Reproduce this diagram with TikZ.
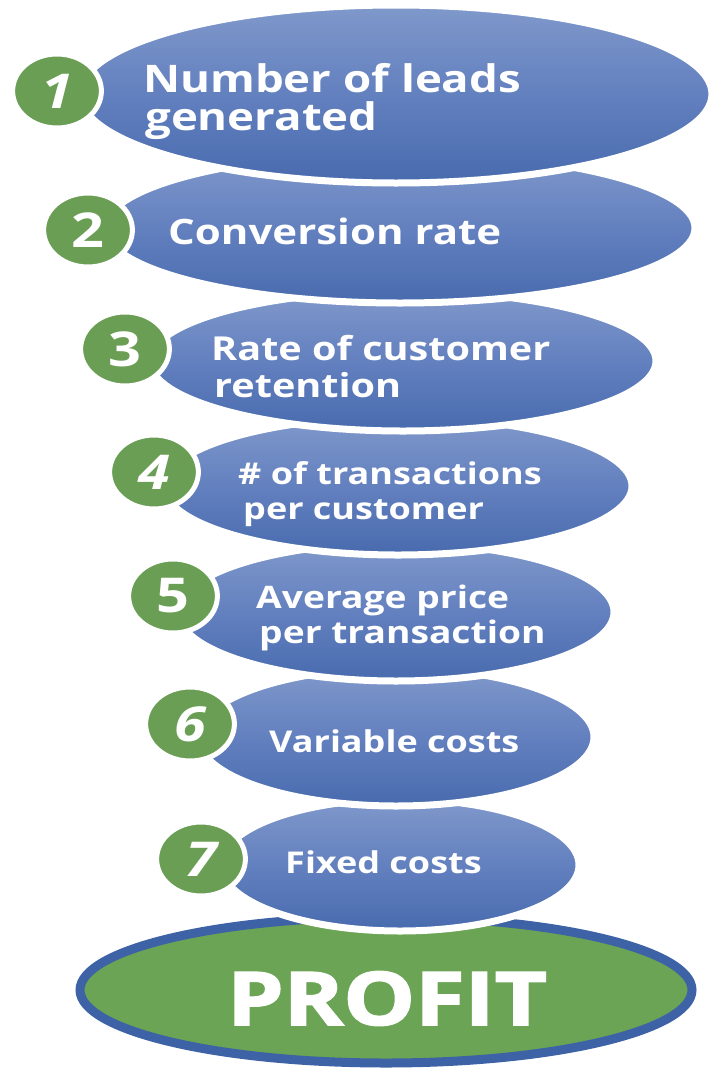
\documentclass[tikz,border=0pt]{standalone}
\usepackage{fontspec}
\setmainfont{Open Sans}
\newfontfamily\heavyfont{Open Sans}[BoldFeatures={FakeBold=2}]
\usetikzlibrary{shapes.geometric}

\definecolor{blueTop}{RGB}{128,153,203}
\definecolor{blueMid}{RGB}{99,128,191}
\definecolor{blueBot}{RGB}{72,107,174}
\definecolor{badgeGreen}{RGB}{106,158,84}
\definecolor{profitGreen}{RGB}{106,164,84}
\definecolor{profitBlue}{RGB}{62,98,166}

\tikzset{
  blob/.style={ellipse, draw=white, line width=7pt, inner sep=0pt,
    top color=blueTop, bottom color=blueBot, middle color=blueMid},
  badge/.style={ellipse, draw=white, line width=5pt, fill=badgeGreen,
    inner sep=0pt, minimum width=74pt, minimum height=74pt,
    xscale=1.2, transform shape, text=white,
    font=\bfseries\fontsize{48}{48}\selectfont},
  lab/.style={anchor=base west, inner sep=0pt, text=white,
    xscale=1.2, transform shape,
    font=\bfseries\fontsize{#1}{#1}\selectfont},
}

\begin{document}
\begin{tikzpicture}[x=1pt, y=-1pt]
\useasboundingbox (0,0) rectangle (709,1071);

% result at the base
\node[ellipse, draw=profitBlue, line width=9pt, fill=profitGreen,
      minimum width=612pt, minimum height=146pt, inner sep=0pt]
      (profit) at (386,990) {};

% stacked drivers, lowest first so each one sits in front of the next
\node[blob, minimum width=358pt, minimum height=132pt] (e7) at (400,865) {};
\node[blob, minimum width=396pt, minimum height=138pt] (e6) at (396,737) {};
\node[blob, minimum width=436pt, minimum height=138pt] (e5) at (396,612) {};
\node[blob, minimum width=468pt, minimum height=138pt] (e4) at (398,486) {};
\node[blob, minimum width=506pt, minimum height=140pt] (e3) at (403,361) {};
\node[blob, minimum width=590pt, minimum height=150pt] (e2) at (400,228) {};
\node[blob, minimum width=632pt, minimum height=178pt] (e1) at (396,94) {};

% number badges
\node[badge] (b1) at (57,91)  {\itshape 1};
\node[badge] (b2) at (88,230) {2};
\node[badge] (b3) at (125,349) {3};
\node[badge] (b4) at (154,472) {\itshape 4};
\node[badge] (b5) at (173,596) {5};
\node[badge] (b6) at (190,724) {\itshape 6};
\node[badge] (b7) at (201,859) {\itshape 7};

% labels
\node[lab=38] (t1a) at (143,92)  {Number of leads};
\node[lab=38] (t1b) at (145,130) {generated};
\node[lab=35] (t2)  at (168,244) {Conversion rate};
\node[lab=33] (t3a) at (211,360) {Rate of customer};
\node[lab=33] (t3b) at (214,397) {retention};
\node[lab=30] (t4a) at (238,484) {\# of transactions};
\node[lab=30] (t4b) at (243,519) {per customer};
\node[lab=31] (t5a) at (256,608) {Average price};
\node[lab=31] (t5b) at (259,643) {per transaction};
\node[lab=30] (t6)  at (269,752) {Variable costs};
\node[lab=30] (t7)  at (285,873) {Fixed costs};

\node[anchor=base, inner sep=0pt, text=white, xscale=1.22, transform shape,
      font=\heavyfont\bfseries\fontsize{74}{74}\selectfont]
      (tp) at (387,1025) {PROFIT};
\end{tikzpicture}
\end{document}
